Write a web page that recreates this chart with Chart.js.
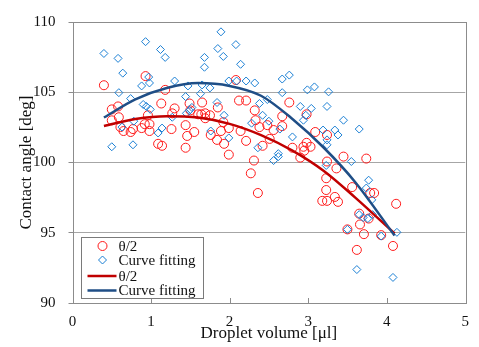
<!DOCTYPE html>
<html><head><meta charset="utf-8">
<script src="https://cdn.jsdelivr.net/npm/chart.js@4.4.1/dist/chart.umd.min.js"></script>
<style>html,body{margin:0;padding:0;background:#fff}#wrap{width:479px;height:347px}</style>
</head><body><div id="wrap"><canvas id="c" width="479" height="347"></canvas></div>
<script>
const xAxisTitle = 'Droplet volume [μl]';
const yAxisTitle = 'Contact angle [deg]';
const xTicks = [0, 1, 2, 3, 4, 5];
const yTicks = [90, 95, 100, 105, 110];
const seriesLabels = ['θ/2', 'Curve fitting', 'θ/2', 'Curve fitting'];

// θ/2 measured points (red circles)
const thetaX = [0.40,0.93,1.18,1.13,1.30,0.50,0.58,0.50,0.59,0.61,0.65,0.74,0.77,0.88,0.92,0.98,0.96,0.98,1.09,1.14,1.26,1.27,1.44,1.49,1.50,1.65,1.64,1.69,1.75,1.69,1.46,1.55,1.44,1.85,1.92,1.89,1.84,1.99,1.93,1.99,2.08,2.12,2.21,2.32,2.33,2.38,2.14,2.21,2.42,2.31,2.27,2.36,2.76,2.67,2.48,2.56,2.67,2.51,2.80,2.98,3.09,3.24,2.94,2.98,2.95,3.03,2.90,3.24,3.45,3.74,3.36,3.23,3.23,3.18,3.24,3.34,3.38,3.56,3.79,3.84,4.12,3.65,3.66,3.77,3.71,3.50,3.93,3.62,4.08,1.60,1.76];
const thetaY = [105.5,106.15,105.17,104.2,103.85,103.78,103.99,103.0,103.22,102.52,102.24,102.17,102.38,102.45,102.73,102.73,103.36,102.24,101.33,101.19,102.38,103.5,102.66,104.2,103.71,104.27,103.43,103.5,103.36,103.15,101.89,102.17,101.05,103.92,102.87,102.24,101.61,102.45,101.33,100.56,105.87,104.41,104.41,103.71,103.01,102.52,102.24,101.54,101.19,100.14,99.23,97.83,104.27,103.29,102.66,102.31,102.59,101.68,101.05,103.43,102.17,101.96,101.12,101.4,100.84,101.12,100.35,100.07,100.42,100.28,99.58,98.88,98.04,97.27,97.27,97.55,97.2,98.25,97.83,97.83,97.06,96.36,95.59,96.01,94.9,95.24,94.83,93.78,94.06,103.43,101.96];

// Curve fitting points (blue diamonds)
const fitX = [0.40,0.58,0.64,0.93,1.12,1.18,0.88,0.98,0.97,1.30,1.47,1.68,1.68,1.85,1.89,1.92,2.08,2.14,1.99,2.09,2.21,2.32,1.65,1.75,1.63,1.44,1.84,0.59,0.74,0.90,0.94,0.99,1.49,1.45,1.52,1.27,0.78,0.63,1.09,1.14,1.93,1.76,1.99,2.38,2.28,2.36,0.50,0.77,2.50,2.42,2.48,2.67,2.76,2.67,2.99,3.08,3.26,3.24,2.90,3.04,2.97,2.94,3.45,3.65,3.19,3.34,3.38,2.80,3.24,3.24,2.64,2.62,2.62,2.56,3.23,3.55,3.77,3.74,3.81,3.65,3.70,3.76,3.82,3.50,3.93,4.13,3.62,4.08];
const fitY = [107.76,107.41,106.36,108.6,108.04,107.48,105.45,105.66,106.08,105.8,105.45,107.48,106.78,108.11,109.3,107.55,108.39,106.99,105.8,105.8,105.8,105.66,105.52,105.31,104.9,104.69,104.27,104.97,104.55,104.13,103.99,103.78,103.71,103.5,103.92,103.22,102.94,102.52,102.1,102.45,103.36,102.24,101.75,104.2,102.8,101.05,101.12,101.26,102.94,103.36,104.48,105.94,106.22,104.97,105.17,105.38,105.03,103.99,103.99,103.85,103.36,103.01,103.01,102.38,102.31,102.31,101.96,101.82,101.61,101.26,102.38,100.63,100.42,100.14,99.79,100.07,98.74,98.18,97.34,96.29,96.08,96.01,96.29,95.24,94.76,95.03,92.38,91.82];

// fitted curves
const thetaCurveX = [0.4, 0.8, 1.2, 1.6, 2.0, 2.4, 2.8, 3.2, 3.6, 4.1];
const thetaCurveY = [102.6, 103.1, 103.3, 103.2, 102.75, 101.95, 100.85, 99.4, 97.5, 94.95];
const fitCurveX = [0.4, 0.8, 1.2, 1.6, 2.0, 2.4, 2.8, 3.2, 3.6, 4.1];
const fitCurveY = [103.2, 104.5, 105.3, 105.65, 105.45, 104.75, 103.1, 101.05, 98.6, 94.8];

const pts = (xs, ys) => xs.map((x, i) => ({x: x, y: ys[i]}));
const SERIF = "'Liberation Serif','Times New Roman',serif";

const chromePlugin = {
  id: 'chrome',
  afterDatasetsDraw(chart) {
    const ctx = chart.ctx, a = chart.chartArea, xs = chart.scales.x;
    ctx.save();
    ctx.strokeStyle = '#8c8c8c';
    ctx.lineWidth = 1;
    ctx.strokeRect(Math.round(a.left) + 0.5, Math.round(a.top) + 0.5, Math.round(a.right - a.left), Math.round(a.bottom - a.top));
    // inner tick marks on x axis
    xTicks.forEach(v => {
      if (v === xTicks[0] || v === xTicks[xTicks.length - 1]) return;
      const px = Math.round(xs.getPixelForValue(v)) + 0.5;
      ctx.beginPath(); ctx.moveTo(px, a.bottom); ctx.lineTo(px, a.bottom - 5); ctx.stroke();
    });
    // legend box
    const lx = a.left + 8, ly = a.bottom - 66, lw = 122, lh = 61;
    ctx.fillStyle = '#fff';
    ctx.fillRect(lx, ly, lw, lh);
    ctx.strokeStyle = '#7a7a7a';
    ctx.strokeRect(Math.round(lx) + 0.5, Math.round(ly) + 0.5, lw, lh);
    const ds = chart.data.datasets;
    const rows = [ly + 9, ly + 23, ly + 39, ly + 53.5];
    const symX = lx + 22;
    ctx.font = '15px ' + SERIF;
    ctx.textBaseline = 'middle';
    ctx.textAlign = 'left';
    ds.forEach((d, i) => {
      const y = rows[i];
      ctx.lineWidth = 1;
      if (i === 0) {
        ctx.strokeStyle = d.borderColor;
        ctx.beginPath(); ctx.arc(symX, y, 4.5, 0, Math.PI * 2); ctx.stroke();
      } else if (i === 1) {
        ctx.strokeStyle = d.borderColor;
        ctx.beginPath(); ctx.moveTo(symX, y - 4); ctx.lineTo(symX + 4, y); ctx.lineTo(symX, y + 4); ctx.lineTo(symX - 4, y); ctx.closePath(); ctx.stroke();
      } else {
        ctx.strokeStyle = d.borderColor; ctx.lineWidth = 2.5;
        ctx.beginPath(); ctx.moveTo(lx + 7, y); ctx.lineTo(lx + 36, y); ctx.stroke();
      }
      ctx.fillStyle = '#111';
      ctx.fillText(d.label, lx + 38, y + 1);
    });
    ctx.restore();
  }
};

new Chart(document.getElementById('c'), {
  type: 'scatter',
  data: {
    datasets: [
      {label: seriesLabels[0], data: pts(thetaX, thetaY), pointStyle: 'circle', pointRadius: 4.5, pointBorderWidth: 1,
       borderColor: '#ff1a1a', backgroundColor: 'rgba(0,0,0,0)', pointBackgroundColor: 'rgba(0,0,0,0)', order: 3},
      {label: seriesLabels[1], data: pts(fitX, fitY), pointStyle: 'rectRot', pointRadius: 4, pointBorderWidth: 1,
       borderColor: '#1a7fd4', backgroundColor: 'rgba(0,0,0,0)', pointBackgroundColor: 'rgba(0,0,0,0)', order: 2},
      {label: seriesLabels[2], data: pts(thetaCurveX, thetaCurveY), showLine: true, pointRadius: 0, borderWidth: 2.5,
       borderColor: '#c00000', backgroundColor: '#c00000', cubicInterpolationMode: 'monotone', order: 1},
      {label: seriesLabels[3], data: pts(fitCurveX, fitCurveY), showLine: true, pointRadius: 0, borderWidth: 2.5,
       borderColor: '#1f4e86', backgroundColor: '#1f4e86', cubicInterpolationMode: 'monotone', order: 0}
    ]
  },
  options: {
    responsive: false,
    animation: false,
    devicePixelRatio: 1,
    layout: {padding: {left: 0, right: 10, top: 17, bottom: 0}},
    plugins: {legend: {display: false}, tooltip: {enabled: false}},
    scales: {
      x: {
        type: 'linear', min: 0, max: 5,
        afterBuildTicks: s => { s.ticks = xTicks.map(v => ({value: v})); },
        afterFit: s => { s.height = 44; },
        grid: {display: false, drawTicks: false},
        border: {display: false},
        ticks: {color: '#111', font: {family: SERIF, size: 15}, padding: 10},
        title: {display: true, text: xAxisTitle, color: '#111', font: {family: SERIF, size: 17}, padding: {top: 0, bottom: 3}}
      },
      y: {
        type: 'linear', min: 90, max: 110,
        afterBuildTicks: s => { s.ticks = yTicks.map(v => ({value: v})); },
        afterFit: s => { s.width = 72.5; },
        grid: {color: '#a6a6a6', lineWidth: 1, tickLength: 4, tickColor: '#8c8c8c'},
        border: {display: false},
        ticks: {color: '#111', font: {family: SERIF, size: 15}, padding: 13},
        title: {display: true, text: yAxisTitle, color: '#111', font: {family: SERIF, size: 17}, padding: {top: 16, bottom: 0}}
      }
    }
  },
  plugins: [chromePlugin]
});
</script>
</body></html>
